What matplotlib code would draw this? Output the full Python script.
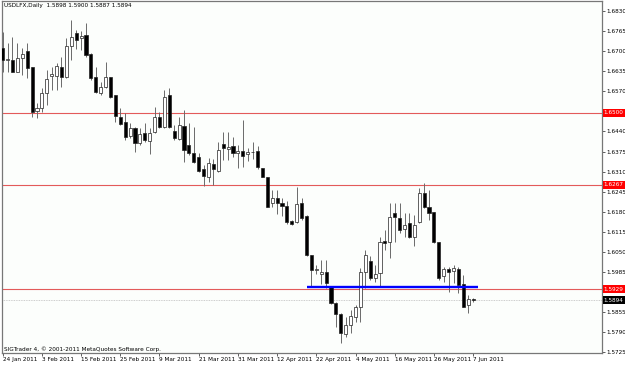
import matplotlib
matplotlib.use("Agg")
import matplotlib.pyplot as plt

# daily OHLC, USDLFX, 24 Jan 2011 .. 7 Jun 2011
opens = [1.6710, 1.6672, 1.6672, 1.6634, 1.6677, 1.6702, 1.6648, 1.6507, 1.6515, 1.6564,
         1.6621, 1.6621, 1.6650, 1.6618, 1.6717, 1.6760, 1.6742, 1.6753, 1.6690, 1.6616,
         1.6566, 1.6583, 1.6618, 1.6558, 1.6488, 1.6472, 1.6425, 1.6450, 1.6404, 1.6436,
         1.6410, 1.6439, 1.6486, 1.6456, 1.6558, 1.6443, 1.6416, 1.6458, 1.6396, 1.6371,
         1.6357, 1.6318, 1.6293, 1.6335, 1.6313, 1.6399, 1.6383, 1.6393, 1.6370, 1.6378,
         1.6366, 1.6374, 1.6378, 1.6321, 1.6292, 1.6207, 1.6225, 1.6207, 1.6199, 1.6150,
         1.6148, 1.6207, 1.6166, 1.6040, 1.5991, 1.5978, 1.5986, 1.5937, 1.5885, 1.5849,
         1.5784, 1.5813, 1.5840, 1.5872, 1.5986, 1.6021, 1.5964, 1.5980, 1.6086, 1.6083,
         1.6175, 1.6159, 1.6123, 1.6143, 1.6099, 1.6148, 1.6240, 1.6196, 1.6178, 1.6083,
         1.5972, 1.5994, 1.5988, 1.5994, 1.5946, 1.5878, 1.5898]
highs = [1.6763, 1.6726, 1.6747, 1.6728, 1.6710, 1.6726, 1.6650, 1.6531, 1.6580, 1.6639,
         1.6650, 1.6661, 1.6682, 1.6742, 1.6801, 1.6769, 1.6767, 1.6790, 1.6693, 1.6648,
         1.6601, 1.6664, 1.6618, 1.6558, 1.6515, 1.6499, 1.6467, 1.6456, 1.6450, 1.6467,
         1.6450, 1.6518, 1.6504, 1.6574, 1.6581, 1.6461, 1.6488, 1.6510, 1.6467, 1.6456,
         1.6369, 1.6331, 1.6353, 1.6351, 1.6406, 1.6438, 1.6439, 1.6423, 1.6396, 1.6477,
         1.6388, 1.6407, 1.6393, 1.6322, 1.6293, 1.6249, 1.6249, 1.6224, 1.6215, 1.6153,
         1.6260, 1.6226, 1.6169, 1.6040, 1.6009, 1.6024, 1.6024, 1.5939, 1.5888, 1.5852,
         1.5840, 1.5862, 1.5878, 1.5997, 1.6056, 1.6037, 1.6007, 1.6099, 1.6121, 1.6207,
         1.6207, 1.6207, 1.6175, 1.6175, 1.6169, 1.6256, 1.6272, 1.6250, 1.6180, 1.6083,
         1.6002, 1.6002, 1.6007, 1.6002, 1.5975, 1.5910, 1.5900]
lows = [1.6634, 1.6634, 1.6633, 1.6633, 1.6623, 1.6612, 1.6488, 1.6483, 1.6504, 1.6526,
        1.6574, 1.6574, 1.6585, 1.6612, 1.6672, 1.6706, 1.6704, 1.6682, 1.6607, 1.6564,
        1.6558, 1.6580, 1.6547, 1.6472, 1.6461, 1.6412, 1.6418, 1.6375, 1.6396, 1.6407,
        1.6367, 1.6434, 1.6450, 1.6451, 1.6451, 1.6412, 1.6412, 1.6342, 1.6364, 1.6337,
        1.6310, 1.6264, 1.6277, 1.6267, 1.6309, 1.6348, 1.6348, 1.6358, 1.6321, 1.6326,
        1.6344, 1.6351, 1.6318, 1.6292, 1.6195, 1.6195, 1.6173, 1.6166, 1.6140, 1.6137,
        1.6144, 1.6153, 1.6037, 1.5936, 1.5978, 1.5946, 1.5932, 1.5881, 1.5808, 1.5754,
        1.5775, 1.5786, 1.5824, 1.5824, 1.5932, 1.5959, 1.5953, 1.5937, 1.6056, 1.6029,
        1.6083, 1.6110, 1.6099, 1.6094, 1.6069, 1.6143, 1.6191, 1.6153, 1.6078, 1.5959,
        1.5953, 1.5921, 1.5948, 1.5916, 1.5871, 1.5851, 1.5887]
closes = [1.6672, 1.6675, 1.6634, 1.6677, 1.6690, 1.6645, 1.6504, 1.6515, 1.6566, 1.6610,
          1.6626, 1.6652, 1.6618, 1.6717, 1.6745, 1.6736, 1.6749, 1.6688, 1.6612, 1.6569,
          1.6585, 1.6616, 1.6551, 1.6490, 1.6464, 1.6423, 1.6450, 1.6402, 1.6431, 1.6412,
          1.6434, 1.6486, 1.6456, 1.6552, 1.6456, 1.6418, 1.6461, 1.6380, 1.6371, 1.6342,
          1.6313, 1.6296, 1.6339, 1.6318, 1.6380, 1.6386, 1.6391, 1.6369, 1.6378, 1.6360,
          1.6374, 1.6375, 1.6325, 1.6293, 1.6196, 1.6225, 1.6207, 1.6199, 1.6148, 1.6140,
          1.6205, 1.6160, 1.6040, 1.5991, 1.5996, 1.5985, 1.5948, 1.5883, 1.5849, 1.5786,
          1.5813, 1.5842, 1.5870, 1.5986, 1.6040, 1.5964, 1.5978, 1.6083, 1.6078, 1.6164,
          1.6162, 1.6121, 1.6137, 1.6099, 1.6137, 1.6240, 1.6194, 1.6175, 1.6083, 1.5964,
          1.5993, 1.5986, 1.5997, 1.5943, 1.5872, 1.5897, 1.5894]

date_labels = ["24 Jan 2011", "3 Feb 2011", "15 Feb 2011", "25 Feb 2011", "9 Mar 2011",
               "21 Mar 2011", "31 Mar 2011", "12 Apr 2011", "22 Apr 2011", "4 May 2011",
               "16 May 2011", "26 May 2011", "7 Jun 2011"]
price_ticks = [1.6830, 1.6765, 1.6700, 1.6635, 1.6570, 1.6505, 1.6440, 1.6375, 1.6310,
               1.6245, 1.6180, 1.6115, 1.6050, 1.5985, 1.5920, 1.5855, 1.5790, 1.5725]
hlines = [1.6500, 1.6267, 1.5929]
bid = 1.5894
trend_level = 1.5937
trend_bars = [62, 97]

font = ["DejaVu Sans"]
fs = 4.6

fig = plt.figure(figsize=(6.25, 3.65), dpi=100)
fig.patch.set_facecolor("white")
ax = fig.add_axes([2 / 625, 12 / 365, 600 / 625, 352 / 365])
ax.set_facecolor("#fcfefc")

n = len(opens)
xs = list(range(n))
ax.vlines(xs, lows, highs, color="#6a6a6a", lw=0.7, zorder=2)
for i in xs:
    o, c = opens[i], closes[i]
    bottom = min(o, c)
    h = max(abs(c - o), 0.00008)
    face = "white" if c >= o else "black"
    ax.bar(i, h, bottom=bottom, width=0.62, color=face, edgecolor="#222222",
           lw=0.5, zorder=3)

for lv in hlines:
    ax.axhline(lv, color="#e35a5a", lw=0.8, zorder=1)
    ax.text(1.003, lv, f"{lv:.4f}", transform=ax.get_yaxis_transform(), color="white",
            fontsize=fs, family=font, fontstretch="condensed", va="center", ha="left",
            bbox=dict(facecolor="#ff0000", edgecolor="none", pad=0.9), clip_on=False, zorder=5)
ax.axhline(bid, color="#bdbdbd", lw=0.6, ls=(0, (1, 1)), zorder=1)
ax.text(1.003, bid, f"{bid:.4f}", transform=ax.get_yaxis_transform(), color="white",
        fontsize=fs, family=font, fontstretch="condensed", va="center", ha="left",
        bbox=dict(facecolor="black", edgecolor="none", pad=0.9), clip_on=False, zorder=5)

ax.plot(trend_bars, [trend_level, trend_level], color="#0000ff", lw=1.7, zorder=4,
        solid_capstyle="butt")

ax.set_xlim(-0.14, 122.3)
ax.set_ylim(1.57223, 1.68628)

ax.yaxis.tick_right()
ax.set_yticks(price_ticks)
ax.set_yticklabels(["" if abs(p - 1.6505) < 1e-6 or abs(p - 1.5920) < 1e-6 else f"{p:.4f}"
                    for p in price_ticks])
ax.set_xticks(list(range(0, n, 8)))
ax.set_xticklabels(date_labels, ha="left")
ax.tick_params(axis="both", direction="out", length=2.2, width=0.6, color="#444444",
               labelsize=fs, pad=1)
for lab in ax.get_xticklabels() + ax.get_yticklabels():
    lab.set_family(font)
    lab.set_fontstretch("condensed")

for s in ax.spines.values():
    s.set_color("#777777")
    s.set_linewidth(0.9)

ax.text(0.004, 0.986, "USDLFX,Daily  1.5898 1.5900 1.5887 1.5894", transform=ax.transAxes,
        fontsize=fs, family=font, fontstretch="condensed", va="center", ha="left")
ax.text(0.004, 0.012, "SIGTrader 4, \u00a9 2001-2011 MetaQuotes Software Corp.",
        transform=ax.transAxes, fontsize=fs, family=font, fontstretch="condensed",
        va="center", ha="left")

fig.savefig("out.png", dpi=100)
